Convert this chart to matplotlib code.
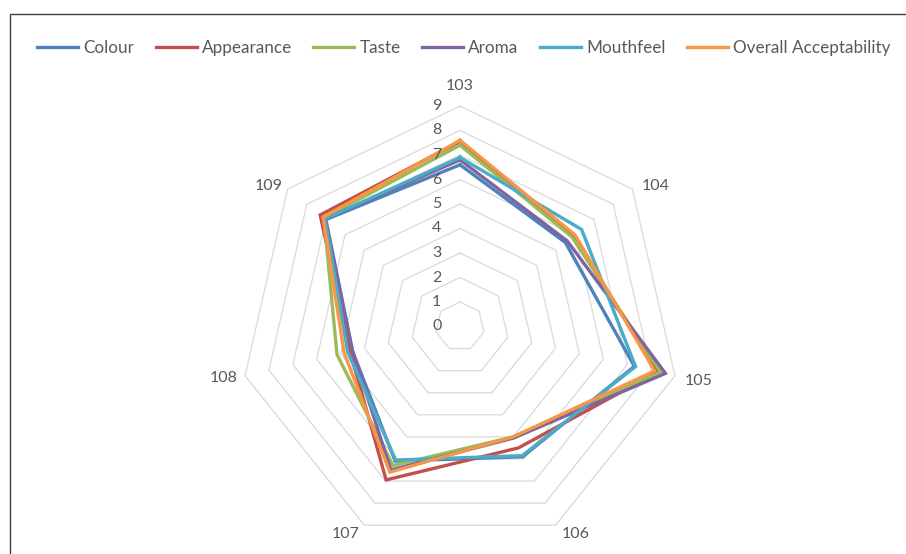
import numpy as np
import matplotlib
matplotlib.use("Agg")
import matplotlib.pyplot as plt
from matplotlib.patches import Rectangle

plt.rcParams['font.family'] = ['Lato', 'DejaVu Sans']

samples = ['103', '104', '105', '106', '107', '108', '109']
series = ['Colour', 'Appearance', 'Taste', 'Aroma', 'Mouthfeel', 'Overall Acceptability']
colour = [6.6, 5.5, 7.3, 5.9, 6.1, 4.5, 7.0]
appearance = [7.55, 5.9, 8.3, 5.5, 6.95, 4.6, 7.3]
taste = [7.4, 5.85, 8.4, 5.0, 6.3, 5.15, 7.1]
aroma = [6.8, 5.6, 8.6, 5.05, 6.5, 4.5, 7.05]
mouthfeel = [6.9, 6.35, 7.35, 5.85, 6.05, 4.7, 7.05]
overall = [7.6, 6.0, 8.15, 5.0, 6.6, 4.85, 7.15]
values = [colour, appearance, taste, aroma, mouthfeel, overall]
colors = ['#4F81BD', '#C0504D', '#9BBB59', '#8064A2', '#4BACC6', '#F79646']
rings = np.arange(0, 10)

W, H = 906, 554
unit = 24.5          # pixels per scale unit
cx, cy = 460, 326.5  # centre of the web in pixels (from top)

fig = plt.figure(figsize=(W / 100, H / 100), dpi=100)
ax = fig.add_axes([0, 0, 1, 1])
ax.set_xlim(-cx / unit, (W - cx) / unit)
ax.set_ylim(-(H - cy) / unit, cy / unit)
ax.axis('off')

n = len(samples)
ang = np.arange(n) * 2 * np.pi / n
sx, sy = np.sin(ang), np.cos(ang)

# heptagon grid
for r in rings[1:]:
    ax.plot(np.append(r * sx, r * sx[0]), np.append(r * sy, r * sy[0]),
            color='#d9d9d9', lw=0.9, zorder=1)

for r in rings:
    ax.text(-0.95, r, str(r), ha='center', va='center', fontsize=11.5,
            color='#595959', zorder=5)

# category labels sit just outside the outer ring, nudged like Excel does (px)
nudge = [(0, -4), (4, -12), (0, 0), (9, 13), (-8, 13), (2, 3), (0, -12)]
for k, s in enumerate(samples):
    dx, dy = nudge[k]
    ax.text(10 * sx[k] + dx / unit, 10 * sy[k] + dy / unit, s,
            ha='center', va='center', fontsize=11.5, color='#595959')

for name, v, c in zip(series, values, colors):
    v = np.array(v)
    ax.plot(np.append(v * sx, v[0] * sx[0]), np.append(v * sy, v[0] * sy[0]),
            color=c, lw=2.4, label=name, zorder=3, solid_joinstyle='miter')

fig.legend(loc='upper center', bbox_to_anchor=(0.512, 0.956), ncol=6,
           frameon=False, fontsize=12.3, handlelength=2.4, handletextpad=0.3,
           columnspacing=1.25, labelcolor='#595959')

fig.patches.append(Rectangle((10 / W, -0.01), 1.2, 1 - 14 / H + 0.01,
                             transform=fig.transFigure, fill=False,
                             edgecolor='#404040', lw=1.0))

fig.savefig('out.png', dpi=100)
